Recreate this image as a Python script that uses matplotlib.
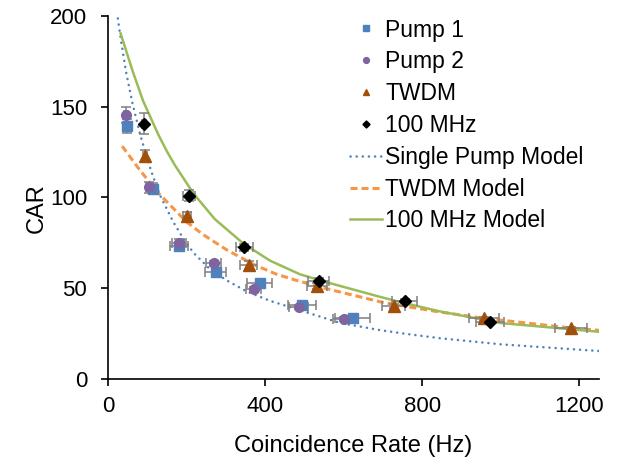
import matplotlib
matplotlib.use("Agg")
import matplotlib.pyplot as plt

plt.rcParams['font.family'] = ['Liberation Sans', 'DejaVu Sans']

# ---- measured data ----
pump1_x = [48, 115, 181, 274, 386, 493, 623]
pump1_y = [139.2, 104.7, 73, 58.8, 52.7, 40.8, 33.8]
pump1_xerr = [4, 8, 22, 27, 31, 36, 45]
pump1_yerr = [4, 3, 2, 2, 1.5, 1.2, 1]

pump2_x = [46, 105, 180, 269, 371, 485, 601]
pump2_y = [145.4, 105.6, 75, 63.7, 49.4, 39.8, 33]
pump2_xerr = [4, 8, 18, 19, 19, 25, 29]
pump2_yerr = [4.6, 3, 2, 1.5, 1.5, 1, 1]

twdm_x = [94, 202, 358, 532, 727, 958, 1179]
twdm_y = [123, 89.5, 62.8, 51.2, 40.2, 33.4, 27.9]
twdm_xerr = [6, 10, 21, 26, 30, 38, 41]
twdm_yerr = [3, 2.5, 2, 1.5, 1, 1, 1]

mhz_x = [92, 206, 347, 536, 755, 972]
mhz_y = [140.4, 101, 72.5, 54.2, 42.9, 31.4]
mhz_xerr = [6, 15, 21, 27, 32, 36]
mhz_yerr = [5.8, 3, 2, 1.5, 1, 1]

# ---- model curves ----
sp_model_x = [25, 34, 46, 61.5, 80.5, 99.5, 115, 132, 166, 187, 217, 259, 303,
              353, 413, 463, 592, 693, 750, 843, 1000, 1250]
sp_model_y = [198.5, 185, 169, 152.5, 135.7, 121.3, 111.3, 101.4, 86.5, 79,
              69.6, 60.6, 54.2, 48.2, 43, 39.6, 30.8, 26.9, 25.1, 22.5, 19.1, 15.4]

twdm_model_x = [36, 76.5, 124, 137, 200, 242, 303, 370, 430, 481, 566, 693,
                745, 838, 958, 1179, 1250]
twdm_model_y = [128.2, 116.3, 103.4, 100.4, 86.5, 79.5, 71, 63.1, 57.6, 54.2,
                49.2, 42.5, 40.5, 37.1, 33.4, 28.1, 26.8]

mhz_model_x = [32, 63.5, 89.5, 128, 149, 170, 208, 226, 272, 345, 413, 489,
               566, 693, 745, 843, 1000, 1250]
mhz_model_y = [190.3, 169, 153, 134.6, 125.7, 117.8, 105.3, 99.9, 88, 74.5,
               65.1, 57.6, 52.7, 45.2, 42.3, 37.3, 30.8, 26]

x_ticks = [0, 400, 800, 1200]
y_ticks = [0, 50, 100, 150, 200]

c_blue = '#4F81BD'
c_purple = '#8064A2'
c_brown = '#A24F0A'
c_orange = '#F79646'
c_green = '#9BBB59'
c_err = '#7F7F7F'

W, H = 619, 462
fig = plt.figure(figsize=(W/100, H/100), dpi=100)
ax = fig.add_axes([108/W, 1-379/H, (599-108)/W, (379-15.7)/H])

# model lines
l_sp, = ax.plot(sp_model_x, sp_model_y, color=c_blue, lw=1.8,
                dashes=(0.05, 2.4), dash_capstyle='round',
                label='Single Pump Model', zorder=2)
l_tw, = ax.plot(twdm_model_x, twdm_model_y, color=c_orange, lw=2.2,
                dashes=(2.3, 1.3), label='TWDM Model', zorder=2)
l_mz, = ax.plot(mhz_model_x, mhz_model_y, color=c_green, lw=1.8,
                label='100 MHz Model', zorder=2)

# error bars
for xs, ys, xe, ye in [(pump1_x, pump1_y, pump1_xerr, pump1_yerr),
                       (pump2_x, pump2_y, pump2_xerr, pump2_yerr),
                       (twdm_x, twdm_y, twdm_xerr, twdm_yerr),
                       (mhz_x, mhz_y, mhz_xerr, mhz_yerr)]:
    ax.errorbar(xs, ys, xerr=xe, yerr=ye, fmt='none', ecolor=c_err,
                elinewidth=1.1, capsize=3.5, capthick=1.1, zorder=3)

# markers
m1, = ax.plot(pump1_x, pump1_y, 's', color=c_blue, ms=7, ls='none',
              label='Pump 1', zorder=4)
m2, = ax.plot(pump2_x, pump2_y, 'o', color=c_purple, ms=7, ls='none',
              label='Pump 2', zorder=4)
m3, = ax.plot(twdm_x, twdm_y, '^', color=c_brown, ms=8, ls='none',
              label='TWDM', zorder=4)
m4, = ax.plot(mhz_x, mhz_y, 'D', color='black', ms=6, ls='none',
              label='100 MHz', zorder=4)

ax.set_xlim(0, 1250)
ax.set_ylim(0, 200)
ax.set_xticks(x_ticks)
ax.set_yticks(y_ticks)
for s in ['top', 'right']:
    ax.spines[s].set_visible(False)
for s in ['left', 'bottom']:
    ax.spines[s].set_linewidth(1.2)
ax.tick_params(axis='both', labelsize=16, length=5, width=1.2, direction='out')
ax.tick_params(axis='y', pad=10)
ax.tick_params(axis='x', pad=7)

ax.set_xlabel('Coincidence Rate (Hz)', fontsize=17)
ax.set_ylabel('CAR', fontsize=17)
ax.xaxis.set_label_coords(0.5, -0.153)
ax.yaxis.set_label_coords(-0.122, 0.471)

leg = fig.legend(handles=[m1, m2, m3, m4, l_sp, l_tw, l_mz],
                 loc='upper left', bbox_to_anchor=(350/W, 1-18.5/H),
                 bbox_transform=fig.transFigure, frameon=False, fontsize=16.5,
                 markerscale=0.6, handlelength=1.4, handletextpad=0.13,
                 labelspacing=0.385, borderpad=0, borderaxespad=0)

fig.savefig('out.png', dpi=100)
